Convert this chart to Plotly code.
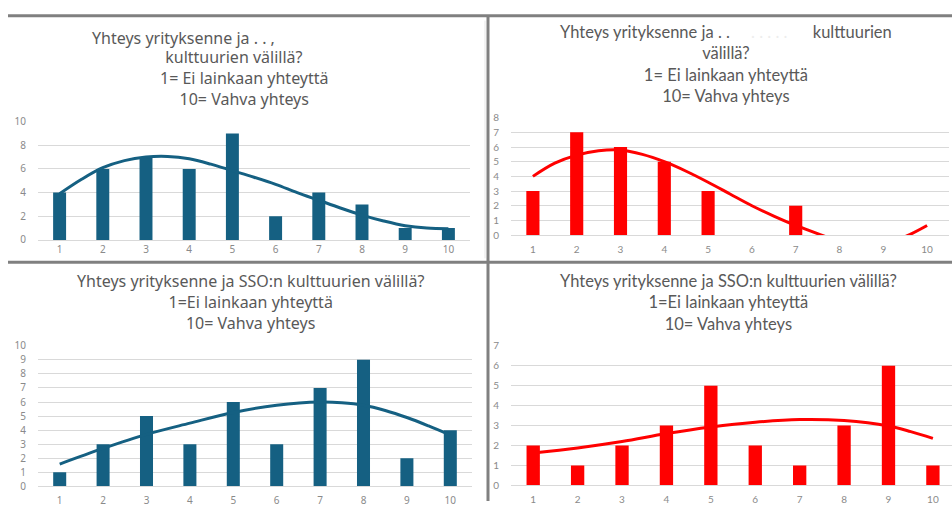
import plotly.graph_objects as go

W, H = 952, 508

categories = ["1", "2", "3", "4", "5", "6", "7", "8", "9", "10"]
xs = [1, 2, 3, 4, 5, 6, 7, 8, 9, 10]

# Top-left (blue)
tl_bars = [4, 6, 7, 6, 9, 2, 4, 3, 1, 1]
tl_trend_x = [1, 1.5, 2, 2.5, 3, 3.5, 4, 4.5, 5, 5.5, 6, 6.5, 7, 7.5, 8, 8.5, 9, 9.5, 10]
tl_trend_y = [3.9, 5.1, 6.1, 6.7, 7.0, 7.05, 6.85, 6.4, 5.85, 5.3, 4.7, 4.0, 3.35, 2.7, 2.1, 1.6, 1.2, 1.0, 0.95]

# Top-right (red)
tr_bars = [3, 7, 6, 5, 3, 0, 2, 0, 0, 0]
tr_trend_x = [1, 1.5, 2, 2.5, 3, 3.5, 4, 4.5, 5, 5.5, 6, 6.5, 7, 7.5, 8, 8.5, 9, 9.5, 10]
tr_trend_y = [4.0, 4.9, 5.45, 5.75, 5.8, 5.5, 5.0, 4.35, 3.6, 2.8, 2.0, 1.3, 0.66, 0.1, -0.42, -0.64, -0.55, -0.1, 0.65]

# Bottom-left (blue)
bl_bars = [1, 3, 5, 3, 6, 3, 7, 9, 2, 4]
bl_trend_x = [1, 2, 3, 4, 5, 6, 7, 7.5, 8, 8.5, 9, 9.5, 10]
bl_trend_y = [1.59, 2.7, 3.7, 4.5, 5.26, 5.77, 6.0, 5.95, 5.77, 5.4, 4.9, 4.3, 3.65]

# Bottom-right (red)
br_bars = [2, 1, 2, 3, 5, 2, 1, 3, 6, 1]
br_trend_x = [1, 2, 3, 4, 5, 6, 7, 8, 9, 9.5, 10]
br_trend_y = [1.63, 1.88, 2.2, 2.6, 2.93, 3.17, 3.3, 3.25, 2.98, 2.7, 2.36]

BLUE = "#156082"
RED = "#FF0000"
GRID = "#d9d9d9"
TICK = "#8a8a8a"
TITLE = "#595959"

LEFT_FONT = "Noto Sans"
RIGHT_FONT = "Lato"
LEFT_SIZE = 16
RIGHT_SIZE = 16.5

fig = go.Figure()

panels = [
    ("x", "y", tl_bars, tl_trend_x, tl_trend_y, BLUE),
    ("x2", "y2", tr_bars, tr_trend_x, tr_trend_y, RED),
    ("x3", "y3", bl_bars, bl_trend_x, bl_trend_y, BLUE),
    ("x4", "y4", br_bars, br_trend_x, br_trend_y, RED),
]
for xa, ya, bars, tx, ty, col in panels:
    fig.add_trace(go.Bar(x=xs, y=bars, marker=dict(color=col, line=dict(width=0)),
                         xaxis=xa, yaxis=ya, showlegend=False))
    fig.add_trace(go.Scatter(x=tx, y=ty, mode="lines", line=dict(color=col, width=3, shape="spline"),
                             xaxis=xa, yaxis=ya, showlegend=False))


def px_x(p):
    return p / W


def px_y(p):
    return 1 - p / H


def xax(domain, rng, font, ticklen):
    return dict(domain=domain, range=rng, tickvals=xs, ticktext=categories,
                showgrid=False, zeroline=False, showline=True, linecolor=GRID, linewidth=1,
                ticks="outside", ticklen=ticklen, tickcolor="rgba(0,0,0,0)",
                tickfont=dict(family=font, size=10, color=TICK), fixedrange=True)


def yax(domain, rng, dtick, font, anchor):
    return dict(domain=domain, range=rng, dtick=dtick, showgrid=True, gridcolor=GRID, gridwidth=1,
                zeroline=False, showline=False, ticks="outside", ticklen=9,
                tickcolor="rgba(0,0,0,0)", tickfont=dict(family=font, size=10, color=TICK),
                anchor=anchor, fixedrange=True)


layout = dict(
    width=W, height=H, margin=dict(l=0, r=0, t=0, b=0),
    paper_bgcolor="white", plot_bgcolor="white",
    bargap=0.7, showlegend=False,
    xaxis=xax([px_x(38), px_x(470)], [0.5, 10.5], LEFT_FONT, 0) | dict(anchor="y"),
    yaxis=yax([px_y(239), px_y(117)], [0, 10], 2, LEFT_FONT, "x"),
    xaxis2=xax([px_x(511), px_x(949)], [0.5, 10.5], RIGHT_FONT, 5) | dict(anchor="y2"),
    yaxis2=yax([px_y(234), px_y(113)], [0, 8], 1, RIGHT_FONT, "x2"),
    xaxis3=xax([px_x(38), px_x(472)], [0.5, 10.5], LEFT_FONT, 5) | dict(anchor="y3"),
    yaxis3=yax([px_y(493), px_y(348)], [0, 10], 1, LEFT_FONT, "x3"),
    xaxis4=xax([px_x(511), 1.0], [0.5, 10.43], RIGHT_FONT, 5) | dict(anchor="y4"),
    yaxis4=yax([px_y(492), px_y(348)], [0, 7], 1, RIGHT_FONT, "x4"),
)
fig.update_layout(**layout)

ann = []


def title(text, x, y, font, size, anchor="center"):
    ann.append(dict(text=text, x=px_x(x), y=px_y(y), xref="paper", yref="paper",
                    xanchor=anchor, yanchor="middle", showarrow=False, align="center",
                    font=dict(family=font, size=size, color=TITLE)))


NB = "\u00a0"
FAINT = "<span style='color:#ededed'>. . . . .</span>"

# Top-left title (first line partly blanked out in the original)
title("Yhteys yrityksenne ja . . ,", 90, 31, LEFT_FONT, LEFT_SIZE, "left")
title("kulttuurien välillä?" + NB * 5 + "<br>1= Ei lainkaan yhteyttä<br>10= Vahva yhteys",
      245, 72, LEFT_FONT, LEFT_SIZE)

# Top-right title
title("Yhteys yrityksenne ja . . " + NB * 4 + FAINT + NB * 5 + " kulttuurien<br>välillä?<br>1= Ei lainkaan yhteyttä<br>10= Vahva yhteys",
      726, 58, RIGHT_FONT, RIGHT_SIZE)

# Bottom-left title
title("Yhteys yrityksenne ja SSO:n kulttuurien välillä?<br>1=Ei lainkaan yhteyttä<br>10= Vahva yhteys",
      250, 302.5, LEFT_FONT, LEFT_SIZE)

# Bottom-right title
title("Yhteys yrityksenne ja SSO:n kulttuurien välillä?<br>1=Ei lainkaan yhteyttä<br>10= Vahva yhteys",
      728, 303, RIGHT_FONT, RIGHT_SIZE)

fig.update_layout(annotations=ann)

DIV = "#808080"
shapes = [
    dict(type="line", xref="paper", yref="paper", x0=px_x(8), x1=1, y0=px_y(8), y1=px_y(8),
         line=dict(color=DIV, width=3)),
    dict(type="line", xref="paper", yref="paper", x0=px_x(8), x1=1, y0=px_y(262), y1=px_y(262),
         line=dict(color=DIV, width=3)),
    dict(type="line", xref="paper", yref="paper", x0=px_x(488), x1=px_x(488), y0=px_y(8), y1=0,
         line=dict(color=DIV, width=3)),
    dict(type="line", xref="paper", yref="paper", x0=px_x(485), x1=px_x(485), y0=px_y(13), y1=px_y(258),
         line=dict(color="#e6e6e6", width=1)),
]
fig.update_layout(shapes=shapes)

fig.write_html("out.html")
